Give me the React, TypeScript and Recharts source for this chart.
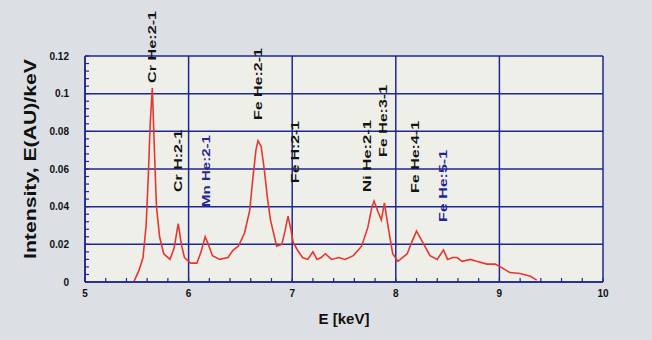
import React from 'react';
import {
  LineChart, Line, XAxis, YAxis, CartesianGrid, ReferenceDot, Label
} from 'recharts';

// spectrum (keV, intensity)
const energy = [
  5.47, 5.52, 5.56, 5.59, 5.61, 5.63, 5.65, 5.67, 5.69, 5.72, 5.76, 5.82, 5.86, 5.9, 5.93, 5.96,
  6.02, 6.08, 6.12, 6.16, 6.19, 6.23, 6.3, 6.38, 6.43, 6.48, 6.54, 6.59, 6.62, 6.65, 6.67, 6.7,
  6.73, 6.76, 6.79, 6.85, 6.9, 6.93, 6.96, 6.99, 7.01, 7.05, 7.1, 7.15, 7.2, 7.24, 7.28, 7.32,
  7.38, 7.45, 7.51, 7.59, 7.67, 7.73, 7.77, 7.79, 7.83, 7.86, 7.89, 7.93, 7.97, 8.02, 8.11, 8.16,
  8.2, 8.26, 8.33, 8.4, 8.46, 8.5, 8.55, 8.59, 8.64, 8.72, 8.78, 8.88, 8.96, 9.01, 9.1, 9.2,
  9.3, 9.36,
];
const intensity = [
  0.0, 0.006, 0.013, 0.03, 0.055, 0.085, 0.103, 0.07, 0.04, 0.024, 0.015, 0.012, 0.018, 0.031, 0.02, 0.013,
  0.01, 0.01, 0.016, 0.024, 0.02, 0.014, 0.012, 0.013, 0.017, 0.019, 0.026, 0.038, 0.055, 0.07, 0.075, 0.072,
  0.06, 0.045, 0.033, 0.019, 0.02, 0.027, 0.035, 0.027, 0.021, 0.017, 0.013, 0.012, 0.016, 0.012, 0.013, 0.015,
  0.012, 0.013, 0.012, 0.014, 0.019, 0.029, 0.04, 0.043, 0.037, 0.033, 0.042, 0.028, 0.015, 0.011, 0.015, 0.022,
  0.027, 0.021, 0.014, 0.012, 0.017, 0.012, 0.013, 0.013, 0.011, 0.012, 0.011, 0.0095, 0.0095, 0.008, 0.005, 0.0045,
  0.003, 0.001,
];

const xTicks = [5, 6, 7, 8, 9, 10];
const yTicks = [0, 0.02, 0.04, 0.06, 0.08, 0.1, 0.12];

// line identifications: name, energy of the peak, height where the label starts
const peakNames = ['Cr He:2-1', 'Cr H:2-1', 'Mn He:2-1', 'Fe He:2-1', 'Fe H:2-1', 'Ni He:2-1', 'Fe He:3-1', 'Fe He:4-1', 'Fe He:5-1'];
const peakEnergy = [5.65, 5.9, 6.17, 6.67, 7.03, 7.72, 7.88, 8.19, 8.46];
const peakHeight = [0.1057, 0.0478, 0.0398, 0.086, 0.0526, 0.0478, 0.0664, 0.0473, 0.0319];
const bluePeaks = ['Mn He:2-1', 'Fe He:5-1'];

const BLUE = '#1f2790';
const RED = '#e8362c';
const FONT = '"Liberation Sans", Arial, Helvetica, sans-serif';
const MINOR = 4;

const data = energy.map((e, i) => ({ e, v: intensity[i] }));

// all tick positions (major + minor), minor ticks every 0.2 keV and 0.004
const xAll = Array.from({ length: 26 }, (_, i) => +(5 + i * 0.2).toFixed(1));
const yAll = Array.from({ length: 31 }, (_, i) => +(i * 0.004).toFixed(3));
const isMajor = (v: number, step: number) => Math.abs(v / step - Math.round(v / step)) < 1e-6;

const tickText = { fontSize: 10, fontWeight: 'bold' as const, fontFamily: FONT, fill: '#111' };

const BottomTick = (props: any) => {
  const { x, y, payload } = props;
  const v = payload.value;
  return (
    <g>
      <line x1={x} y1={y} x2={x} y2={y - MINOR} stroke={BLUE} strokeWidth={1.2} />
      {isMajor(v, 1) && (
        <text x={x} y={y + 15} textAnchor="middle" {...tickText}>{String(v)}</text>
      )}
    </g>
  );
};

const TopTick = (props: any) => {
  const { x, y } = props;
  return <line x1={x} y1={y} x2={x} y2={y + MINOR} stroke={BLUE} strokeWidth={1.2} />;
};

const LeftTick = (props: any) => {
  const { x, y, payload } = props;
  const v = payload.value;
  return (
    <g>
      <line x1={x} y1={y} x2={x + MINOR} y2={y} stroke={BLUE} strokeWidth={1.2} />
      {isMajor(v, 0.02) && (
        <text x={x - 16} y={y} textAnchor="end" dominantBaseline="central" {...tickText}>{String(v)}</text>
      )}
    </g>
  );
};

const RightTick = (props: any) => {
  const { x, y } = props;
  return <line x1={x} y1={y} x2={x - MINOR} y2={y} stroke={BLUE} strokeWidth={1.2} />;
};

const peakShape = (name: string) => (props: any) => {
  const { cx, cy } = props;
  const isH = !name.includes('He');
  return (
    <text
      x={cx}
      y={cy}
      transform={`rotate(-90 ${cx} ${cy})`}
      textAnchor="start"
      dominantBaseline="central"
      fill={bluePeaks.includes(name) ? BLUE : '#141414'}
      fontSize={11}
      fontWeight="bold"
      fontFamily={FONT}
      textLength={isH ? 62 : 72}
      lengthAdjust="spacingAndGlyphs"
    >
      {name}
    </text>
  );
};

const YTitle = (props: any) => {
  const vb = props.viewBox || { x: 0, y: 56, width: 85, height: 226 };
  const x = vb.x + 30;
  const y = vb.y + vb.height / 2 - 10;
  return (
    <text x={x} y={y} transform={`rotate(-90 ${x} ${y})`} textAnchor="middle" dominantBaseline="central"
      fontSize={16} fontWeight="bold" fontFamily={FONT} fill="#111" textLength={200} lengthAdjust="spacingAndGlyphs">
      Intensity, E(AU)/keV
    </text>
  );
};

const XTitle = (props: any) => {
  const vb = props.viewBox || { x: 85, y: 282, width: 518, height: 58 };
  return (
    <text x={vb.x + vb.width / 2} y={vb.y + 36} textAnchor="middle" dominantBaseline="central"
      fontSize={15} fontWeight="bold" fontFamily={FONT} fill="#111">
      E [keV]
    </text>
  );
};

export default function App() {
  return (
    <div style={{ position: 'absolute', left: 0, top: 0, width: 652, height: 340, background: '#dcdfe4' }}>
      <LineChart width={652} height={340} data={data} margin={{ top: 56, right: 49, bottom: 0, left: 0 }}>
        <CartesianGrid stroke={BLUE} strokeWidth={1.5} fill="#efefea" verticalValues={xTicks} horizontalValues={yTicks} />
        <XAxis
          dataKey="e"
          type="number"
          domain={[5, 10]}
          ticks={xAll}
          interval={0}
          allowDataOverflow
          height={58}
          tickLine={false}
          tickSize={0}
          tickMargin={0}
          axisLine={{ stroke: BLUE, strokeWidth: 1.5 }}
          tick={BottomTick}
        >
          <Label content={XTitle} />
        </XAxis>
        <XAxis
          xAxisId="top"
          orientation="top"
          dataKey="e"
          type="number"
          domain={[5, 10]}
          ticks={xAll}
          interval={0}
          allowDataOverflow
          height={0}
          tickLine={false}
          tickSize={0}
          tickMargin={0}
          axisLine={false}
          tick={TopTick}
        />
        <YAxis
          type="number"
          domain={[0, 0.12]}
          ticks={yAll}
          interval={0}
          allowDataOverflow
          width={85}
          tickLine={false}
          tickSize={0}
          tickMargin={0}
          axisLine={{ stroke: BLUE, strokeWidth: 1.5 }}
          tick={LeftTick}
        >
          <Label content={YTitle} />
        </YAxis>
        <YAxis
          yAxisId="right"
          orientation="right"
          type="number"
          domain={[0, 0.12]}
          ticks={yAll}
          interval={0}
          allowDataOverflow
          width={0}
          tickLine={false}
          tickSize={0}
          tickMargin={0}
          axisLine={false}
          tick={RightTick}
        />
        <Line type="linear" dataKey="v" stroke={RED} strokeWidth={1.6} dot={false} isAnimationActive={false} />
        {peakNames.map((name, i) => (
          <ReferenceDot key={name} x={peakEnergy[i]} y={peakHeight[i]} r={0} shape={peakShape(name)} />
        ))}
      </LineChart>
    </div>
  );
}
